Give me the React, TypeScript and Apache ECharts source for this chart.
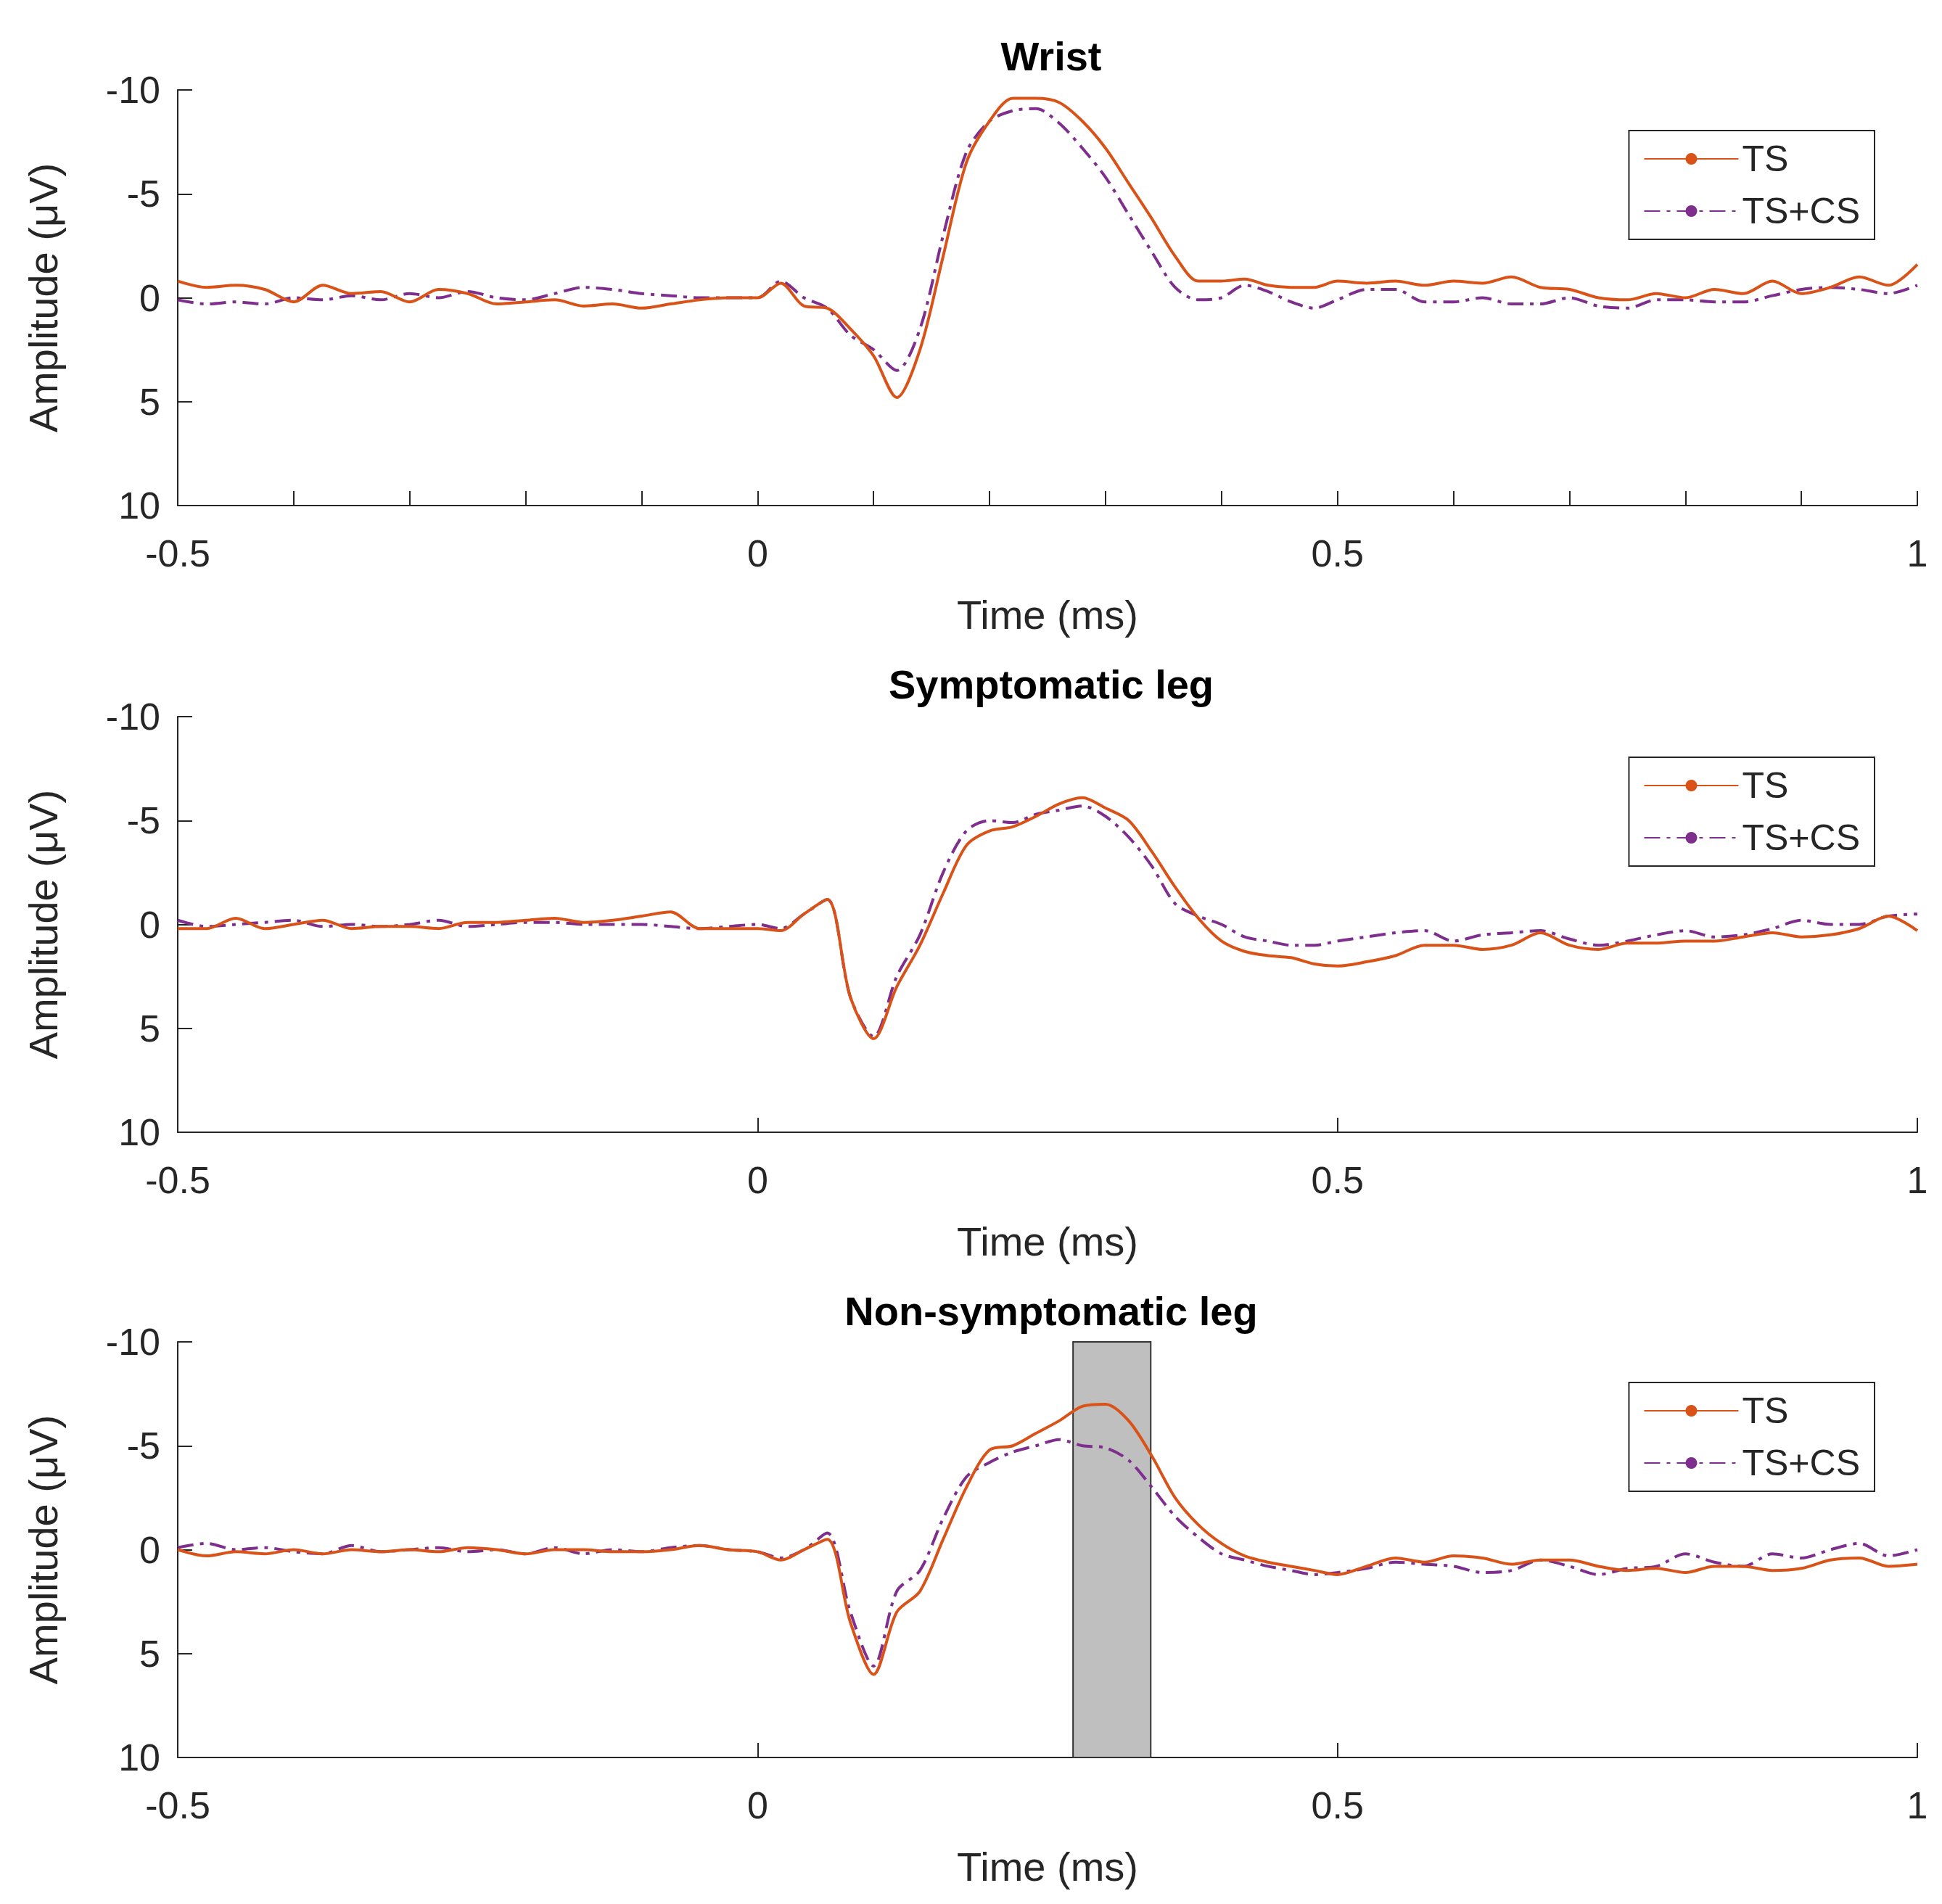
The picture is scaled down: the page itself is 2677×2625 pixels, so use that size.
import React, { useEffect, useRef } from 'react';
import * as echarts from 'echarts';

// shared time base (ms): coarse baseline, dense during response, coarse tail
const preT = Array.from({ length: 20 }, (_, i) => +(-0.5 + i * 0.025).toFixed(3));
const midT = Array.from({ length: 26 }, (_, i) => +(i * 0.02).toFixed(3));
const postT = Array.from({ length: 20 }, (_, i) => +(0.525 + i * 0.025).toFixed(3));
const time = [...preT, ...midT, ...postT];

const titles = ['Wrist', 'Symptomatic leg', 'Non-symptomatic leg'];

const wristTS = [
  -0.8, -0.5, -0.6, -0.4, 0.2, -0.6, -0.2, -0.3, 0.2, -0.4, -0.2, 0.3, 0.2, 0.1, 0.4, 0.3, 0.5, 0.3, 0.1, 0.0,
  0, -0.7, 0.4, 0.5, 1.5, 2.8, 4.8, 2.5, -2.0, -6.5, -8.5, -9.6, -9.6, -9.4, -8.5, -7.2, -5.5, -3.8, -2.0, -0.8, -0.8, -0.9, -0.6, -0.5, -0.5, -0.8,
  -0.7, -0.8, -0.6, -0.8, -0.7, -1.0, -0.5, -0.4, 0.0, 0.1, -0.2, 0.0, -0.4, -0.2, -0.8, -0.2, -0.5, -1.0, -0.6, -1.6,
];
const wristTSCS = [
  0.1, 0.3, 0.2, 0.3, 0.0, 0.1, -0.1, 0.1, -0.2, 0.0, -0.3, 0.0, 0.1, -0.2, -0.5, -0.4, -0.2, -0.1, 0.0, 0.0,
  0.0, -0.8, 0.0, 0.5, 1.8, 2.5, 3.5, 1.5, -3.0, -7.0, -8.5, -9.0, -9.1, -8.4, -7.2, -5.8, -4.0, -2.2, -0.5, 0.1, 0.0, -0.6, -0.3, 0.2, 0.5, 0.1,
  -0.4, -0.4, 0.2, 0.2, 0.0, 0.3, 0.3, 0.0, 0.4, 0.5, 0.1, 0.1, 0.2, 0.2, -0.1, -0.4, -0.5, -0.4, -0.2, -0.6,
];
const sympTS = [
  0.2, 0.2, -0.3, 0.2, 0.0, -0.2, 0.2, 0.1, 0.1, 0.2, -0.1, -0.1, -0.2, -0.3, -0.1, -0.2, -0.4, -0.6, 0.2, 0.2,
  0.2, 0.3, -0.5, -1.2, 3.5, 5.5, 3.0, 1.0, -1.5, -3.8, -4.5, -4.7, -5.2, -5.8, -6.1, -5.6, -5.0, -3.5, -1.8, -0.3, 0.8, 1.3, 1.5, 1.6, 1.9, 2.0,
  1.8, 1.5, 1.0, 1.0, 1.2, 1.0, 0.4, 1.0, 1.2, 0.9, 0.9, 0.8, 0.8, 0.6, 0.4, 0.6, 0.5, 0.2, -0.4, 0.3,
];
const sympTSCS = [
  -0.2, 0.1, 0.0, -0.1, -0.2, 0.1, 0.0, 0.1, 0.0, -0.2, 0.1, 0.0, -0.1, -0.1, 0.0, 0.0, 0.0, 0.1, 0.2, 0.1,
  0.0, 0.2, -0.5, -1.2, 3.5, 5.4, 2.5, 0.5, -2.5, -4.5, -5.0, -4.9, -5.3, -5.5, -5.7, -5.2, -4.2, -2.8, -1.0, -0.4, 0.0, 0.6, 0.8, 1.0, 1.0, 0.8,
  0.6, 0.4, 0.3, 0.8, 0.5, 0.4, 0.3, 0.7, 1.0, 0.8, 0.5, 0.3, 0.6, 0.5, 0.2, -0.2, 0.0, 0.0, -0.4, -0.5,
];
const nonTS = [
  0.0, 0.3, 0.1, 0.2, 0.0, 0.2, 0.0, 0.1, 0.0, 0.1, -0.1, 0.0, 0.2, 0.0, 0.0, 0.1, 0.1, 0.0, -0.2, 0.0,
  0.1, 0.5, 0.0, -0.5, 3.5, 6.0, 3.0, 2.0, -0.5, -3.0, -4.8, -5.0, -5.6, -6.2, -6.9, -7.0, -6.2, -4.5, -2.5, -1.2, -0.3, 0.3, 0.6, 0.8, 1.0, 1.2,
  0.8, 0.4, 0.6, 0.3, 0.4, 0.7, 0.5, 0.5, 0.8, 1.0, 0.9, 1.1, 0.8, 0.8, 1.0, 0.9, 0.5, 0.4, 0.8, 0.7,
];
const nonTSCS = [
  -0.1, -0.3, 0.0, -0.1, 0.1, 0.2, -0.2, 0.1, 0.0, -0.1, 0.1, 0.0, 0.2, -0.1, 0.2, 0.0, 0.1, -0.1, -0.2, 0.0,
  0.1, 0.4, 0.0, -0.8, 3.0, 5.6, 2.0, 1.0, -1.5, -3.5, -4.2, -4.7, -5.0, -5.3, -5.0, -4.9, -4.3, -3.0, -1.6, -0.6, 0.2, 0.5, 0.8, 1.0, 1.2, 1.1,
  0.9, 0.6, 0.7, 0.8, 1.1, 1.0, 0.5, 0.8, 1.2, 0.9, 0.8, 0.2, 0.6, 0.8, 0.2, 0.4, 0.0, -0.3, 0.3, 0.0,
];
const panels = [
  [wristTS, wristTSCS],
  [sympTS, sympTSCS],
  [nonTS, nonTSCS],
];
const shadeRange = [0.272, 0.339];

const FONT = '"Liberation Sans", Arial, sans-serif';
const INK = '#262626';
const ORANGE = '#d95319';
const PURPLE = '#7e2f8e';
const DASH = [22, 9, 5, 9];
const gridTops = [124, 988, 1850];
const gridH = 573;

const App: React.FC = () => {
  const ref = useRef<HTMLDivElement>(null);

  useEffect(() => {
    document.body.style.margin = '0';
    if (!ref.current) return;
    const chart = echarts.init(ref.current, undefined, { renderer: 'svg' });

    const grids = gridTops.map(top => ({ left: 245, width: 2398, top, height: gridH }));
    const xAxes = gridTops.map((_, i) => ({
      type: 'value',
      gridIndex: i,
      min: -0.5,
      max: 1,
      interval: i === 0 ? 0.1 : 0.5,
      name: 'Time (ms)',
      nameLocation: 'middle',
      nameGap: 122,
      nameTextStyle: { fontSize: 56, color: INK, fontFamily: FONT },
      axisLine: { onZero: false, lineStyle: { color: INK, width: 2 } },
      axisTick: { inside: true, length: 20, lineStyle: { color: INK, width: 2 } },
      axisLabel: {
        fontSize: 52,
        color: INK,
        fontFamily: FONT,
        margin: 40,
        formatter: (v: number) => {
          const r = Math.round(v * 10) / 10;
          return Math.abs(r * 2 - Math.round(r * 2)) < 1e-6 ? String(r) : '';
        },
      },
      splitLine: { show: false },
    }));
    const yAxes = gridTops.map((_, i) => ({
      type: 'value',
      gridIndex: i,
      min: -10,
      max: 10,
      interval: 5,
      inverse: true,
      name: 'Amplitude (μV)',
      nameLocation: 'middle',
      nameGap: 158,
      nameTextStyle: { fontSize: 56, color: INK, fontFamily: FONT },
      axisLine: { show: true, onZero: false, lineStyle: { color: INK, width: 2 } },
      axisTick: { show: true, inside: true, length: 20, lineStyle: { color: INK, width: 2 } },
      axisLabel: { fontSize: 52, color: INK, fontFamily: FONT, margin: 24 },
      splitLine: { show: false },
    }));

    const series: any[] = [];
    panels.forEach(([ts, tscs], i) => {
      series.push({
        name: 'TS',
        type: 'line',
        xAxisIndex: i,
        yAxisIndex: i,
        data: time.map((t, k) => [t, ts[k]]),
        showSymbol: false,
        symbol: 'none',
        smooth: 0.3,
        lineStyle: { color: ORANGE, width: 4 },
        itemStyle: { color: ORANGE },
        markArea:
          i === 2
            ? {
                silent: true,
                itemStyle: { color: '#bfbfbf', borderColor: '#333', borderWidth: 2 },
                data: [[{ xAxis: shadeRange[0], yAxis: -10 }, { xAxis: shadeRange[1], yAxis: 10 }]],
              }
            : undefined,
        z: 3,
      });
      series.push({
        name: 'TS+CS',
        type: 'line',
        xAxisIndex: i,
        yAxisIndex: i,
        data: time.map((t, k) => [t, tscs[k]]),
        showSymbol: false,
        symbol: 'none',
        smooth: 0.3,
        lineStyle: { color: PURPLE, width: 4, type: DASH },
        itemStyle: { color: PURPLE },
        z: 2,
      });
    });

    const legends = gridTops.map(top => ({
      orient: 'vertical',
      right: 93,
      top: top + 56,
      padding: [14, 20, 14, 20],
      itemGap: 22,
      itemWidth: 130,
      itemHeight: 20,
      borderColor: INK,
      borderWidth: 2,
      backgroundColor: '#fff',
      textStyle: { fontSize: 50, color: INK, fontFamily: FONT },
      data: ['TS', 'TS+CS'],
    }));

    chart.setOption({
      animation: false,
      backgroundColor: '#fff',
      title: titles.map((text, i) => ({
        text,
        left: 1444,
        textAlign: 'center',
        top: [44, 910, 1774][i],
        textStyle: { fontSize: 56, fontWeight: 'bold', color: '#000', fontFamily: FONT },
      })),
      legend: legends,
      grid: grids,
      xAxis: xAxes,
      yAxis: yAxes,
      series,
    });

    return () => chart.dispose();
  }, []);

  return <div ref={ref} style={{ width: 2677, height: 2625 }} />;
};

export default App;
